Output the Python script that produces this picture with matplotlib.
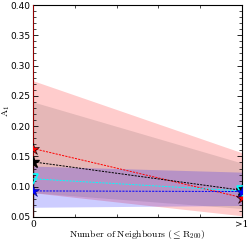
import numpy as np
import matplotlib.pyplot as plt
from matplotlib.ticker import MultipleLocator

plt.rcParams['mathtext.fontset'] = 'cm'

# Data (x = 0 and x = ">1")
x = [0, 1]
xticklabels = ['0', '>1']

red_mid = [0.163, 0.082]
black_mid = [0.141, 0.094]
cyan_mid = [0.113, 0.093]
blue_mid = [0.093, 0.092]

red_lo = [0.090, 0.052]
red_hi = [0.275, 0.156]
black_lo = [0.090, 0.064]
black_hi = [0.240, 0.139]
blue_lo = [0.066, 0.069]
blue_hi = [0.134, 0.124]

fig = plt.figure(figsize=(2.49, 2.40), dpi=100)
ax = fig.add_axes([0.133, 0.096, 0.839, 0.883])

# Bands
ax.fill_between(x, red_lo, red_hi, color='red', alpha=0.2, lw=0)
ax.fill_between(x, black_lo, black_hi, color='black', alpha=0.1, lw=0)
ax.fill_between(x, blue_lo, blue_hi, color='blue', alpha=0.2, lw=0)

# Lines + markers
ls = (0, (2.2, 1.2))
ax.plot(x, red_mid, color='red', ls=ls, lw=0.7, marker='*', ms=9,
        mfc='red', mec='black', mew=0.4, zorder=5)
ax.plot(x, black_mid, color='black', ls=ls, lw=0.7, marker='*', ms=9,
        mfc='black', mec='black', zorder=5)
ax.plot(x, cyan_mid, color='cyan', ls=ls, lw=0.7, marker='v', ms=7,
        mfc='none', mec='cyan', mew=1.2, zorder=5)
ax.plot(x, blue_mid, color='blue', ls=ls, lw=0.7, marker='*', ms=9,
        mfc='blue', mec='navy', mew=0.4, zorder=6)

# Error bars running along the left edge
ax.vlines(0, 0.05, 0.40, color='red', lw=1.2, alpha=0.7, zorder=4)
ax.vlines(0, 0.05, 0.14, color='black', lw=1.0, alpha=0.7, zorder=4)

ax.set_xlim(0, 1)
ax.set_ylim(0.05, 0.40)
ax.set_xticks(x)
ax.set_xticklabels(xticklabels, family='DejaVu Serif', fontsize=6.5)
ax.xaxis.set_minor_locator(MultipleLocator(0.2))
ax.yaxis.set_major_locator(MultipleLocator(0.05))
ax.yaxis.set_minor_locator(MultipleLocator(0.01))
ax.tick_params(which='both', direction='in', top=True, right=True,
               labelsize=6.5, pad=2)
ax.tick_params(which='major', length=3.5, width=0.6)
ax.tick_params(which='minor', length=2, width=0.5)
for s in ax.spines.values():
    s.set_linewidth(0.8)

ax.set_xlabel(r'$\mathrm{Number\ of\ Neighbours\ (\leq R_{200})}$', fontsize=7)
ax.set_ylabel(r'$\mathrm{A_1}$', fontsize=7)
ax.xaxis.set_label_coords(0.5, -0.05)
ax.yaxis.set_label_coords(-0.1, 0.5)

fig.savefig('out.png', dpi=100)
